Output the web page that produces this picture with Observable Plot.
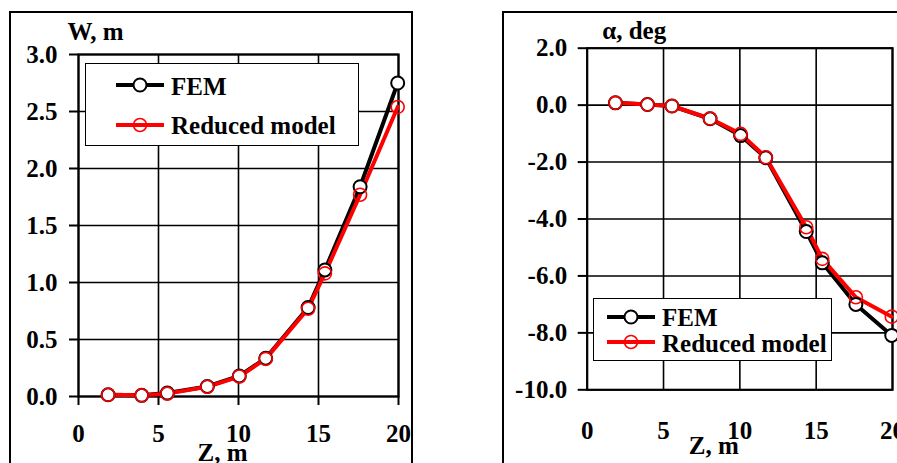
<!DOCTYPE html>
<html><head><meta charset="utf-8">
<script src="https://cdn.jsdelivr.net/npm/d3@7"></script>
<script src="https://cdn.jsdelivr.net/npm/@observablehq/plot@0.6"></script>
<style>
html,body{margin:0;padding:0;background:#fff;}
#root{position:relative;width:897px;height:463px;overflow:hidden;font-family:"Liberation Serif","Times New Roman",serif;font-weight:bold;color:#000;}
.panel{position:absolute;top:0;}
.frame{position:absolute;border:2px solid #000;box-sizing:border-box;pointer-events:none;}
.legend{position:absolute;background:#fff;border:1.5px solid #000;box-sizing:border-box;font-size:25px;line-height:25px;}
.legend svg{position:absolute;overflow:visible;}
.legend span{position:absolute;white-space:nowrap;}
</style></head>
<body><div id="root">
<div class="panel" id="left" style="left:0;width:450px"></div>
<div class="panel" id="right" style="left:450px;width:447px"></div>
<div class="frame" style="left:9px;top:11px;width:404px;height:480px"></div>
<div class="frame" style="left:502px;top:11px;width:420px;height:480px"></div>
<div class="legend" id="legL" style="left:85px;top:63px;width:274px;height:83px"></div>
<div class="legend" id="legR" style="left:593px;top:298px;width:239px;height:63px"></div>
</div>
<script>
// ---- data ----
const zNodes = [1.85, 3.95, 5.55, 8.05, 10.05, 11.7, 14.35, 15.4, 17.6, 19.95];
const wFEM   = [0.015, 0.01, 0.03, 0.088, 0.18, 0.336, 0.78, 1.11, 1.84, 2.75];
const wRed   = [0.015, 0.01, 0.025, 0.085, 0.175, 0.33, 0.77, 1.08, 1.77, 2.54];
const aFEM   = [0.08, 0.02, -0.03, -0.48, -1.07, -1.85, -4.44, -5.54, -7.0, -8.09];
const aRed   = [0.08, 0.02, -0.03, -0.47, -1.01, -1.83, -4.29, -5.4, -6.75, -7.43];
const xTicks = [0, 5, 10, 15, 20];
const wTicks = [0, 0.5, 1, 1.5, 2, 2.5, 3];
const aTicks = [-10, -8, -6, -4, -2, 0, 2];
const seriesNames = ["FEM", "Reduced model"];
const seriesColors = ["#000000", "#ff0000"];
const xLabel = "Z, m";
const wLabel = "W, m";
const aLabel = "α, deg";

const rows = ys => zNodes.map((z, i) => ({z, v: ys[i]}));
const FONT = "'Liberation Serif', 'Times New Roman', serif";
const FS = 25;

function panel(o) {
  const fem = rows(o.fem), red = rows(o.red);
  return Plot.plot({
    width: o.width, height: 463,
    marginLeft: o.ml, marginRight: o.mr, marginTop: o.mt, marginBottom: o.mb,
    style: {fontFamily: FONT, fontWeight: "bold", fontSize: FS + "px", color: "#000", background: "transparent", overflow: "visible"},
    x: {domain: [0, 20]},
    y: {domain: o.yDomain},
    marks: [
      Plot.gridX(xTicks, {stroke: "#000", strokeOpacity: 1, strokeWidth: 1.6}),
      Plot.gridY(o.yTicks, {stroke: "#000", strokeOpacity: 1, strokeWidth: 1.6}),
      Plot.frame({stroke: "#000", strokeWidth: 2.2}),
      Plot.axisX(xTicks, {tickSize: o.xTickSize, tickPadding: o.xPad, label: null, tickFormat: d => String(d), fontSize: FS, fontWeight: "bold", strokeWidth: 2}),
      Plot.axisY(o.yTicks, {tickSize: 9, tickPadding: o.yPad, label: null, tickFormat: d => d.toFixed(1), fontSize: FS, fontWeight: "bold", strokeWidth: 2}),
      Plot.line(fem, {x: "z", y: "v", stroke: seriesColors[0], strokeWidth: 4}),
      Plot.line(red, {x: "z", y: "v", stroke: seriesColors[1], strokeWidth: 4}),
      Plot.dot(fem, {x: "z", y: "v", r: 6.5, fill: "#fff", stroke: seriesColors[0], strokeWidth: 2}),
      Plot.dot(red, {x: "z", y: "v", r: 6.5, fill: "none", stroke: seriesColors[1], strokeWidth: 1.6}),
      Plot.text([o.yLabel], {text: d => d, frameAnchor: "top-left", lineAnchor: "middle", dx: o.ldx, dy: o.ldy, textAnchor: "start", fontSize: FS, fontWeight: "bold", fill: "#000"}),
      Plot.text([xLabel], {text: d => d, frameAnchor: "bottom", lineAnchor: "middle", dx: o.zdx, dy: o.zdy, fontSize: FS, fontWeight: "bold", fill: "#000"})
    ]
  });
}

document.getElementById("left").append(panel({
  width: 450, ml: 78, mr: 52, mt: 54, mb: 67,
  yDomain: [0, 3], yTicks: wTicks, fem: wFEM, red: wRed,
  xTickSize: 9, xPad: 19, yPad: 12,
  yLabel: wLabel, ldx: -11, ldy: -23, zdx: -16, zdy: 56
}));
document.getElementById("right").append(panel({
  width: 447, ml: 136.7, mr: 5, mt: 47.7, mb: 73.7,
  yDomain: [-10, 2], yTicks: aTicks, fem: aFEM, red: aRed,
  xTickSize: 0, xPad: 31, yPad: 11,
  yLabel: aLabel, ldx: 15, ldy: -17, zdx: -26, zdy: 56
}));

function legend(id, l) {
  const el = document.getElementById(id);
  seriesNames.forEach((name, i) => {
    const cy = l.cy[i];
    const ns = "http://www.w3.org/2000/svg";
    const svg = document.createElementNS(ns, "svg");
    svg.setAttribute("width", l.x1 - l.x0); svg.setAttribute("height", 20);
    svg.style.left = l.x0 + "px"; svg.style.top = (cy - 10) + "px";
    const line = document.createElementNS(ns, "line");
    line.setAttribute("x1", 0); line.setAttribute("x2", l.x1 - l.x0);
    line.setAttribute("y1", 10); line.setAttribute("y2", 10);
    line.setAttribute("stroke", seriesColors[i]); line.setAttribute("stroke-width", 4);
    svg.append(line);
    const c = document.createElementNS(ns, "circle");
    c.setAttribute("cx", (l.x1 - l.x0) / 2); c.setAttribute("cy", 10); c.setAttribute("r", 6.5);
    c.setAttribute("fill", i === 0 ? "#fff" : "none");
    c.setAttribute("stroke", seriesColors[i]); c.setAttribute("stroke-width", i === 0 ? 2 : 1.6);
    svg.append(c);
    el.append(svg);
    const s = document.createElement("span");
    s.textContent = name;
    s.style.left = l.tx + "px"; s.style.top = l.ty[i] + "px";
    el.append(s);
  });
}
legend("legL", {x0: 30, x1: 78, cy: [21, 61], tx: 85, ty: [10, 49]});
legend("legR", {x0: 13, x1: 61, cy: [17.5, 42.5], tx: 68, ty: [6, 31.5]});
</script>
</body></html>
